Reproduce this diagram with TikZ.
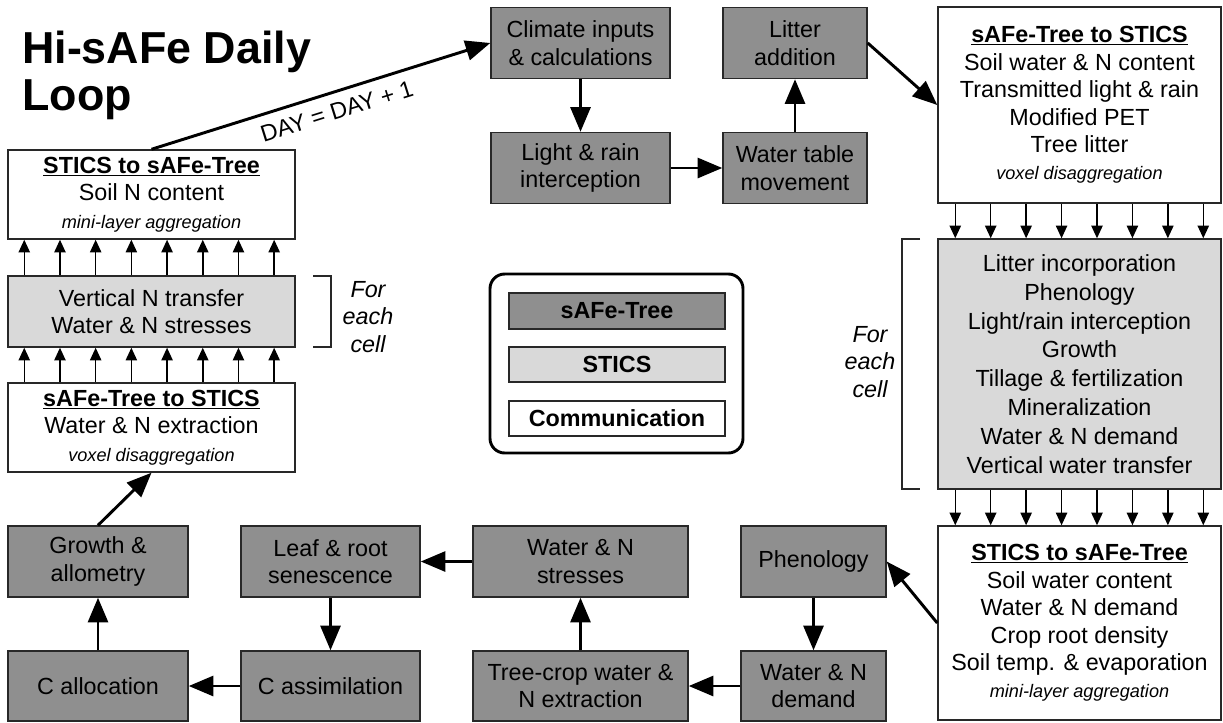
\documentclass[tikz,border=0pt]{standalone}
\usepackage{fontspec}
\setmainfont{Liberation Sans}
\usetikzlibrary{arrows.meta}
\definecolor{treegray}{RGB}{143,143,143}
\definecolor{sticsgray}{RGB}{217,217,217}
\definecolor{edgegray}{RGB}{40,40,40}
\newcommand{\bodyfont}{\fontsize{17.5}{20.6}\selectfont}
\newcommand{\boxtitle}[1]{\textbf{\underline{#1}}}
\newcommand{\subnote}[1]{{\fontsize{13.6}{15}\selectfont\itshape #1}}

\begin{document}
\begin{tikzpicture}[
    x=0.75pt, y=-0.75pt,
    font=\bodyfont,
    treebox/.style={rectangle, draw=edgegray, fill=treegray, line width=1.1pt, minimum width=134.25pt, minimum height=53.25pt, align=center, inner sep=2pt},
    sticsbox/.style={treebox, fill=sticsgray},
    combox/.style={treebox, fill=white},
    bigarrow/.style={-{Triangle[length=18.5pt,width=15pt]}, line width=2.2pt},
    smallarrow/.style={-{Triangle[length=9.5pt,width=8.5pt]}, line width=1.1pt},
    bracket/.style={line width=1.1pt, draw=edgegray},
    note/.style={font=\bodyfont\itshape, align=center}
]
    \useasboundingbox (0,0) rectangle (1223,722);

    % Title
    \node[anchor=north west, inner sep=0pt, align=left, font=\fontsize{33.6}{35.3}\selectfont\bfseries] (title) at (22,31) {Hi-sAFe Daily\\Loop};

    % Top row
    \node[treebox] (climate) at (580.5,43) {Climate inputs\\\& calculations};
    \node[treebox] (light) at (580.5,168) {Light \& rain\\interception};
    \node[treebox, minimum width=108pt] (watertable) at (795,168) {Water table\\movement};
    \node[treebox, minimum width=108pt] (litter) at (795,43) {Litter\\addition};

    % Left column
    \node[combox, minimum width=215.25pt, minimum height=66.75pt] (s2tleft) at (151.5,194.5) {\boxtitle{STICS to sAFe-Tree}\\Soil N content\\\subnote{mini-layer aggregation}};
    \node[sticsbox, minimum width=215.25pt] (vertn) at (151.5,311.5) {Vertical N transfer\\Water \& N stresses};
    \node[combox, minimum width=215.25pt, minimum height=66.75pt] (t2sleft) at (151.5,427.5) {\boxtitle{sAFe-Tree to STICS}\\Water \& N extraction\\\subnote{voxel disaggregation}};

    % Right column
    \node[combox, minimum width=212.25pt, minimum height=147pt] (t2sright) at (1079.5,105) {\boxtitle{sAFe-Tree to STICS}\\Soil water \& N content\\Transmitted light \& rain\\Modified PET\\Tree litter\\\subnote{voxel disaggregation}};
    \node[sticsbox, minimum width=212.25pt, minimum height=187.5pt, font=\fontsize{17.5}{21.6}\selectfont] (sticsright) at (1079.5,364) {Litter incorporation\\Phenology\\Light/rain interception\\Growth\\Tillage \& fertilization\\Mineralization\\Water \& N demand\\Vertical water transfer};
    \node[combox, minimum width=212.25pt, minimum height=145.5pt] (s2tright) at (1079.5,623) {\boxtitle{STICS to sAFe-Tree}\\Soil water content\\Water \& N demand\\Crop root density\\Soil temp. \& evaporation\\\subnote{mini-layer aggregation}};

    % Bottom rows
    \node[treebox, minimum width=135pt] (growth) at (98,561.5) {Growth \&\\allometry};
    \node[treebox, minimum width=135pt, minimum height=52.5pt] (calloc) at (98,686) {C allocation};
    \node[treebox] (leaf) at (330.5,561.5) {Leaf \& root\\senescence};
    \node[treebox, minimum height=52.5pt] (cassim) at (330.5,686) {C assimilation};
    \node[treebox, minimum width=161.25pt] (wnstress) at (580.5,561.5) {Water \& N\\stresses};
    \node[treebox, minimum width=161.25pt, minimum height=52.5pt] (treecrop) at (580.5,686) {Tree-crop water \&\\N extraction};
    \node[treebox, minimum width=108.75pt] (pheno) at (813.5,561.5) {Phenology};
    \node[treebox, minimum width=108.75pt, minimum height=52.5pt] (wndemand) at (813.5,686) {Water \& N\\demand};

    % Legend
    \node[draw=black, line width=2.2pt, rounded corners=11pt, minimum width=189.75pt, minimum height=134.25pt] (legend) at (616.5,363.5) {};
    \node[treebox, minimum width=162pt, minimum height=27pt, font=\bodyfont\bfseries] (legtree) at (617,311) {sAFe-Tree};
    \node[sticsbox, minimum width=162pt, minimum height=26.25pt, font=\bodyfont\bfseries] (legstics) at (617,364.5) {STICS};
    \node[combox, minimum width=162pt, minimum height=26.25pt, font=\bodyfont\bfseries] (legcom) at (617,418.5) {Communication};

    % Per-cell transfers
    \foreach \i in {0,...,7} {
        \draw[smallarrow] ([xshift={(17+35.7*\i)*0.75pt}]t2sleft.north west) -- ([xshift={(17+35.7*\i)*0.75pt}]vertn.south west);
        \draw[smallarrow] ([xshift={(17+35.7*\i)*0.75pt}]vertn.north west) -- ([xshift={(17+35.7*\i)*0.75pt}]s2tleft.south west);
        \draw[smallarrow] ([xshift={(18+35.43*\i)*0.75pt}]t2sright.south west) -- ([xshift={(18+35.43*\i)*0.75pt}]sticsright.north west);
        \draw[smallarrow] ([xshift={(18+35.43*\i)*0.75pt}]sticsright.south west) -- ([xshift={(18+35.43*\i)*0.75pt}]s2tright.north west);
    }

    % Brackets
    \draw[bracket] (313,276) -- (331,276) -- (331,347) -- (313,347);
    \draw[bracket] (920,239) -- (902,239) -- (902,489) -- (920,489);
    \node[note] (cellleft) at (368,317) {For\\each\\cell};
    \node[note] (cellright) at (870,362) {For\\each\\cell};

    % Daily loop
    \draw[bigarrow] (s2tleft.north) -- node[pos=0.53, sloped, below=4pt] (daylabel) {DAY = DAY + 1} (climate.west);
    \draw[bigarrow] (climate) -- (light);
    \draw[bigarrow] (light) -- (watertable);
    \draw[bigarrow] (watertable) -- (litter);
    \draw[bigarrow] (litter.east) -- (t2sright.west);
    \draw[bigarrow] (s2tright.west) -- (pheno.east);
    \draw[bigarrow] (pheno) -- (wndemand);
    \draw[bigarrow] (wndemand) -- (treecrop);
    \draw[bigarrow] (treecrop) -- (wnstress);
    \draw[bigarrow] (wnstress) -- (leaf);
    \draw[bigarrow] (leaf) -- (cassim);
    \draw[bigarrow] (cassim) -- (calloc);
    \draw[bigarrow] (calloc) -- (growth);
    \draw[bigarrow] (growth.north) -- (t2sleft.south);
\end{tikzpicture}
\end{document}
